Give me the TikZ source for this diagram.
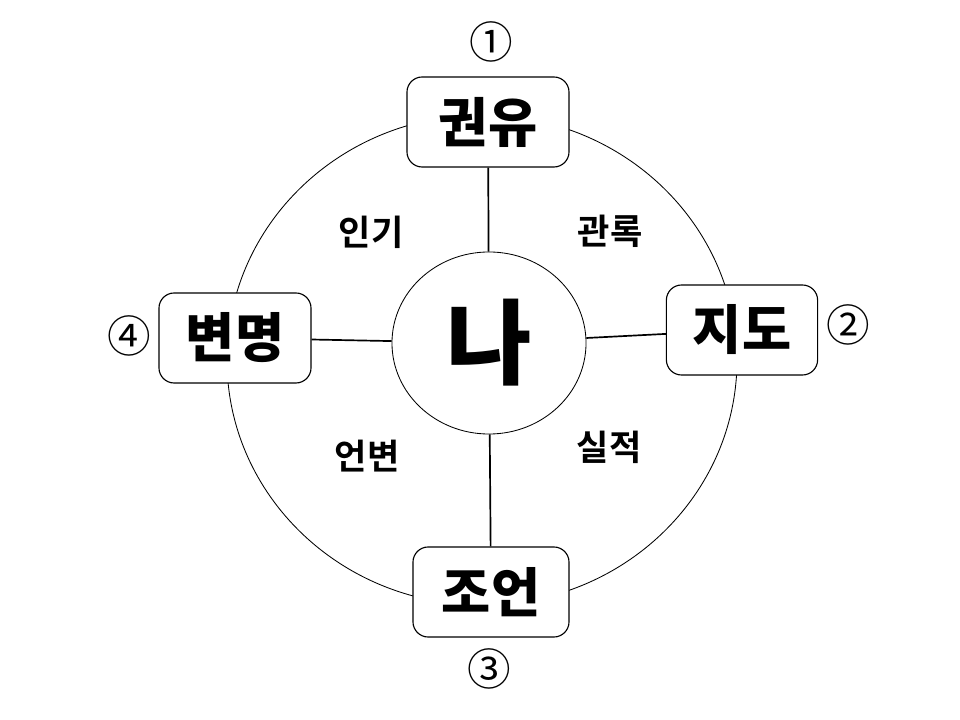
\documentclass[tikz,border=0pt]{standalone}
\usepackage{fontspec}
\setmainfont{Noto Sans CJK KR}[BoldFont={Noto Sans CJK KR Bold}]
\newfontfamily\krheavy{Noto Sans CJK KR Black}
\usetikzlibrary{shapes.geometric}

\begin{document}
\begin{tikzpicture}[x=0.025cm, y=-0.025cm, every node/.style={inner sep=0pt},
      role/.style={rounded corners=0.38cm, draw, line width=0.8pt, fill=white,
                   minimum height=2.25cm, font=\krheavy\fontsize{38}{38}\selectfont},
      trait/.style={font=\bfseries\fontsize{25}{25}\selectfont},
      num/.style={font=\fontsize{31}{31}\selectfont},
      spoke/.style={line width=1.2pt}]
    \useasboundingbox (0,0) rectangle (960,720);
    % outer ring, behind the four boxes
    \draw[line width=0.6pt] (482,360) ellipse [x radius=255, y radius=245];
    \node[ellipse, draw, line width=0.6pt, fill=white, minimum width=4.85cm, minimum height=4.55cm,
          font=\krheavy\fontsize{66}{66}\selectfont] (me) at (489,343) {나};
    \node[role, minimum width=4.05cm] (advise) at (488,122) {권유};
    \node[role, minimum width=3.78cm] (guide) at (742,330) {지도};
    \node[role, minimum width=3.9cm] (counsel) at (491,592) {조언};
    \node[role, minimum width=3.8cm] (excuse) at (235,338) {변명};
    \draw[spoke] (advise) -- (me);
    \draw[spoke] (guide) -- (me);
    \draw[spoke] (counsel) -- (me);
    \draw[spoke] (excuse) -- (me);
    % quadrant words
    \node[trait] (pop) at (371,232) {인기};
    \node[trait] (dignity) at (610,231) {관록};
    \node[trait] (speech) at (367,456) {언변};
    \node[trait] (record) at (609,447) {실적};
    % order marks
    \node[num] (n1) at (491,42) {①};
    \node[num] (n2) at (848,325) {②};
    \node[num] (n3) at (489,669) {③};
    \node[num] (n4) at (129,336) {④};
\end{tikzpicture}
\end{document}
